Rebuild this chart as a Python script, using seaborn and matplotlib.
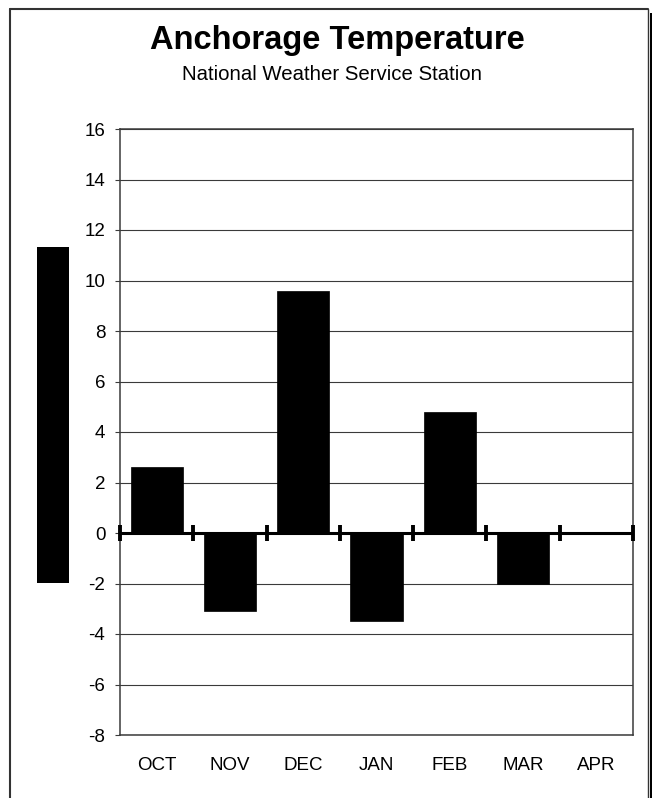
import numpy as np
import pandas as pd
import matplotlib
matplotlib.use("Agg")
import matplotlib.pyplot as plt
from matplotlib.patches import Rectangle
from matplotlib.lines import Line2D
import seaborn as sns

# Monthly temperature departures, Anchorage (deg F)
months = ["OCT", "NOV", "DEC", "JAN", "FEB", "MAR", "APR"]
temps = [2.6, -3.1, 9.6, -3.5, 4.8, -2.0, np.nan]
y_ticks = [-8, -6, -4, -2, 0, 2, 4, 6, 8, 10, 12, 14, 16]

title = "Anchorage Temperature"
subtitle = "National Weather Service Station"

sns.set_theme(style="white")
plt.rcParams["font.family"] = ["Liberation Sans", "DejaVu Sans"]

W, H = 652, 798
fig = plt.figure(figsize=(W / 100, H / 100), dpi=100)
ax = fig.add_axes([120 / W, 1 - 735 / H, (633 - 120) / W, (735 - 129) / H])

df = pd.DataFrame({"month": months, "temp": temps})
sns.barplot(data=df, x="month", y="temp", order=months, color="black",
            saturation=1, width=0.71, edgecolor="black", linewidth=0.5,
            ax=ax, zorder=3)

ax.set_xlim(-0.5, len(months) - 0.5)
ax.set_ylim(y_ticks[0], y_ticks[-1])
ax.set_yticks(y_ticks)
ax.set_yticklabels([str(t) for t in y_ticks])
ax.set_xlabel("")
ax.set_ylabel("")

# horizontal gridlines
ax.yaxis.grid(True, color="#3a3a3a", linewidth=0.8)
ax.xaxis.grid(False)
ax.set_axisbelow(True)

for s in ax.spines.values():
    s.set_color("#3a3a3a")
    s.set_linewidth(1.1)
    s.set_visible(True)

ax.tick_params(axis="y", which="major", left=True, length=3.6, width=0.8,
               color="#3a3a3a", pad=7, labelsize=13.5, labelcolor="black")
ax.tick_params(axis="x", which="major", bottom=False, length=0, pad=16,
               labelsize=13.5, labelcolor="black")

# zero baseline with category-boundary marks
bounds = np.arange(len(months) + 1) - 0.5
ax.axhline(0, color="black", linewidth=2.2, zorder=4)
ax.plot(bounds, np.zeros_like(bounds), linestyle="none", marker="|",
        markersize=11.5, markeredgewidth=2.8, color="black", zorder=5,
        clip_on=False)

# titles
fig.text(0.517, 1 - 40 / H, title, ha="center", va="center",
         fontsize=23.5, fontweight="bold", color="black")
fig.text(0.509, 1 - 75 / H, subtitle, ha="center", va="center",
         fontsize=14.7, color="black")

# solid y-label block
fig.add_artist(Rectangle((37 / W, 1 - 583 / H), (69 - 37) / W, (583 - 247) / H,
                         transform=fig.transFigure, facecolor="black",
                         edgecolor="none"))

# outer frame with shadow on the right
fc = "#333333"
fig.add_artist(Line2D([10 / W, 10 / W], [0, 1 - 9 / H], transform=fig.transFigure,
                      color=fc, linewidth=1.5))
fig.add_artist(Line2D([10 / W, 648 / W], [1 - 9 / H, 1 - 9 / H],
                      transform=fig.transFigure, color=fc, linewidth=1.5))
fig.add_artist(Line2D([648 / W, 648 / W], [0, 1 - 9 / H], transform=fig.transFigure,
                      color=fc, linewidth=1.0))
fig.add_artist(Rectangle((650 / W, 0), 3 / W, 1 - 13 / H, transform=fig.transFigure,
                         facecolor="black", edgecolor="none"))

fig.savefig("out.png", dpi=100, facecolor="white")
